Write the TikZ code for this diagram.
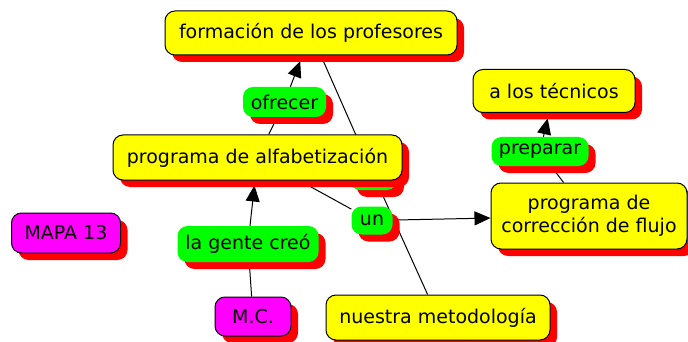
\documentclass[tikz,border=0pt]{standalone}
\usepackage{fontspec}
\setmainfont{DejaVu Sans}
\usetikzlibrary{arrows.meta,shadows,backgrounds}
\definecolor{cyel}{RGB}{255,255,0}
\definecolor{cgrn}{RGB}{0,255,0}
\definecolor{cmag}{RGB}{255,0,255}
\definecolor{cred}{RGB}{255,0,0}
\begin{document}
\begin{tikzpicture}[x=1pt,y=-1pt,
  base/.style={rounded corners=10pt, inner sep=0pt, font=\fontsize{19}{23}\selectfont, align=center,
    drop shadow={shadow xshift=7pt, shadow yshift=-7pt, fill=cred, opacity=1}},
  concept/.style={base, fill=cyel, draw=black, line width=1pt},
  linkp/.style={base, fill=cgrn},
  tagbox/.style={base, fill=cmag, draw=black, line width=1pt},
  conn/.style={line width=1pt, black},
  arr/.style={conn, -{Triangle[length=16pt,width=14pt]}, shorten >=6pt}]
\useasboundingbox (0,0) rectangle (688,342);
% concepts and linking phrases
\node[linkp, minimum width=47pt, minimum height=30pt] (hid) at (373.5,175) {};
\node[concept, minimum width=292pt, minimum height=44pt] (form) at (311,33) {formación de los profesores};
\node[linkp, minimum width=83pt, minimum height=30pt] (ofrecer) at (284.5,102) {ofrecer};
\node[concept, minimum width=289pt, minimum height=45pt] (alfa) at (257.5,157.5) {programa de alfabetización};
\node[concept, minimum width=162pt, minimum height=43pt] (tec) at (554,91) {a los técnicos};
\node[linkp, minimum width=97pt, minimum height=29pt] (prep) at (540,151.5) {preparar};
\node[concept, minimum width=196pt, minimum height=66pt] (corr) at (589,216) {programa de\\corrección de flujo};
\node[linkp, minimum width=41pt, minimum height=28pt] (un) at (372,220.5) {un};
\node[tagbox, minimum width=109pt, minimum height=40pt] (mapa) at (66,233) {MAPA 13};
\node[linkp, minimum width=141pt, minimum height=36pt] (gente) at (248,244) {la gente creó};
\node[tagbox, minimum width=76pt, minimum height=39pt] (mc) at (253,316.5) {M.C.};
\node[concept, minimum width=224pt, minimum height=45pt] (nuestra) at (438,317.5) {nuestra metodología};
% connectors
\begin{scope}[on background layer]
\draw[conn] (alfa) -- (ofrecer);
\draw[arr] (ofrecer) -- (form);
\draw[conn] (mc) -- (gente);
\draw[arr, shorten >=5pt] (gente) -- (alfa);
\draw[conn] (alfa) -- (un);
\draw[arr, shorten >=0pt] (un) -- (corr);
\draw[conn] (corr) -- (prep);
\draw[arr, shorten >=5.5pt] (prep) -- (tec);
\draw[conn] (form) -- (hid);
\draw[conn] (hid) -- (nuestra);
\end{scope}
\end{tikzpicture}
\end{document}
